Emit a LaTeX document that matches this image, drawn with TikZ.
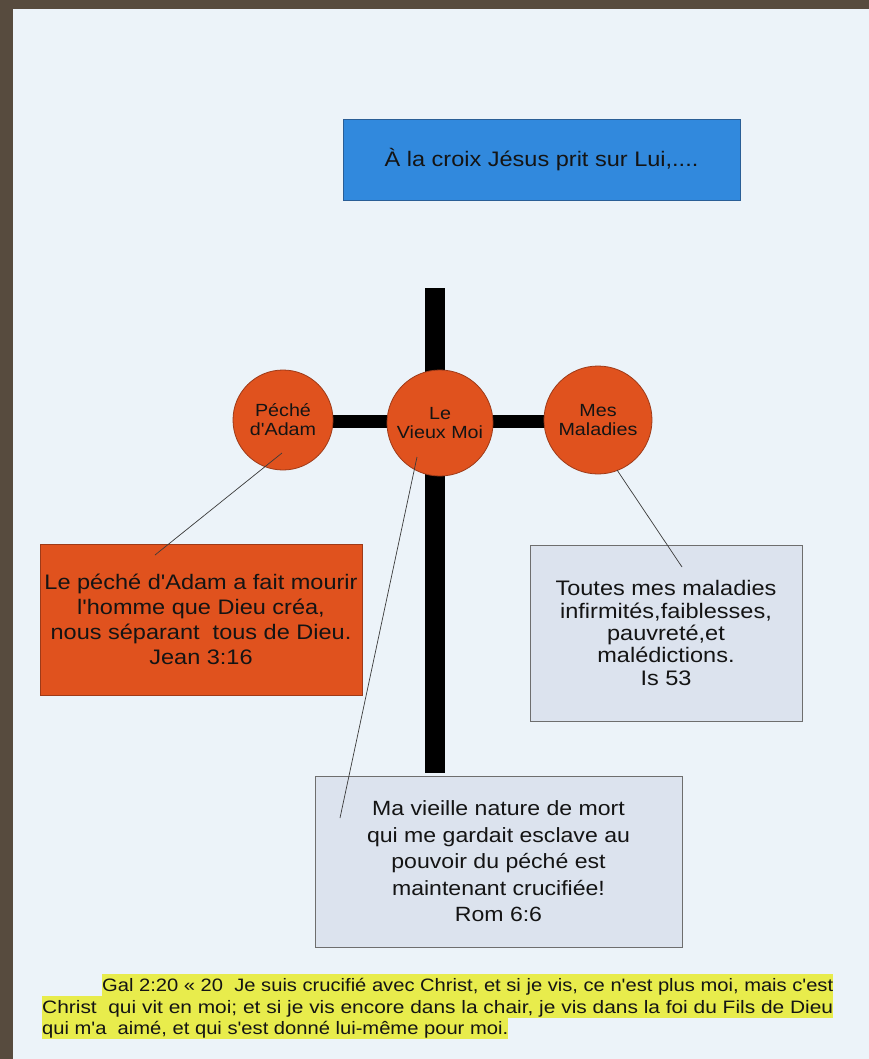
\documentclass[tikz,border=0pt]{standalone}
\usepackage{fontspec}
\usepackage{graphicx}
\newfontfamily\af[FakeStretch=1.12]{Liberation Sans}
\definecolor{brd}{HTML}{574B3E}
\definecolor{pg}{HTML}{ECF3F9}
\definecolor{blu}{HTML}{3189DD}
\definecolor{blud}{HTML}{2A5E96}
\definecolor{orng}{HTML}{E0521E}
\definecolor{orngd}{HTML}{9E3A18}
\definecolor{lbox}{HTML}{DCE3EE}
\definecolor{lboxd}{HTML}{6E6E6E}
\definecolor{hl}{HTML}{E8EC4C}
\definecolor{txt}{HTML}{141414}
\definecolor{lnk}{HTML}{3A3A3A}
\begin{document}
\begin{tikzpicture}[x=1pt,y=-1pt,
  every node/.style={text=txt},
  disc/.style={circle, fill=orng, draw=orngd, line width=0.8pt, inner sep=0pt, align=center, font=\af\fontsize{17.6}{19}\selectfont},
  textbox/.style={draw=lboxd, fill=lbox, line width=0.8pt, inner sep=0pt, align=center},
  hlline/.style={fill=hl, inner xsep=0pt, inner ysep=0pt, text height=17pt, text depth=5pt, font=\af\fontsize{18}{21.5}\selectfont},
  link/.style={draw=lnk, line width=0.7pt}]
\useasboundingbox (0,0) rectangle (869,1059);
\fill[brd] (0,0) rectangle (869,1059);
\fill[pg] (13,9) rectangle (869,1059);

% title
\node[draw=blud, fill=blu, line width=0.8pt, minimum width=397pt, minimum height=81pt, inner sep=0pt,
  font=\af\fontsize{21}{25}\selectfont] (title) at (541.5,159.5) {À la croix Jésus prit sur Lui,....};

% cross
\fill[black] (425,288) rectangle (445,773);
\fill[black] (300,415) rectangle (580,428);

% circles
\node[disc, minimum size=100pt] (adam) at (283,420) {Péché\\d'Adam};
\node[disc, minimum size=106pt] (moi) at (440,423) {Le\\Vieux Moi};
\node[disc, minimum size=108pt] (mal) at (598,420) {Mes\\Maladies};

% boxes
\node[textbox, draw=orngd, fill=orng, minimum width=322pt, minimum height=151pt,
  font=\af\fontsize{21}{25}\selectfont] (adamtxt) at (201,619.5)
  {Le péché d'Adam a fait mourir\\l'homme que Dieu créa,\\nous séparant\ \ tous de Dieu.\\Jean 3:16};
\node[textbox, minimum width=272pt, minimum height=176pt,
  font=\af\fontsize{21}{22.3}\selectfont] (maltxt) at (666,633)
  {Toutes mes maladies\\infirmités,faiblesses,\\pauvreté,et\\malédictions.\\Is 53};
\node[textbox, minimum width=367pt, minimum height=171pt,
  font=\af\fontsize{20.6}{26.5}\selectfont] (moitxt) at (498.5,861.5)
  {Ma vieille nature de mort\\qui me gardait esclave au\\pouvoir du péché est\\maintenant crucifiée!\\Rom 6:6};

% connectors
\coordinate (a1) at (282,453);
\coordinate (a2) at (155,555);
\coordinate (m1) at (417,457);
\coordinate (m2) at (340,818);
\coordinate (s1) at (617,470);
\coordinate (s2) at (682,567);
\draw[link] (a1) -- (a2);
\draw[link] (m1) -- (m2);
\draw[link] (s1) -- (s2);

% verse
\node[hlline, anchor=base west] (g1) at (102,991)
  {\resizebox{731pt}{\height}{Gal 2:20 « 20\ \ Je suis crucifié avec Christ, et si je vis, ce n'est plus moi, mais c'est}};
\node[hlline, anchor=base west] (g2) at (42,1013)
  {\resizebox{791pt}{\height}{Christ\ \ qui vit en moi; et si je vis encore dans la chair, je vis dans la foi du Fils de Dieu}};
\node[hlline, anchor=base west] (g3) at (42,1034)
  {qui m'a\ \ aimé, et qui s'est donné lui-même pour moi.};
\end{tikzpicture}
\end{document}
